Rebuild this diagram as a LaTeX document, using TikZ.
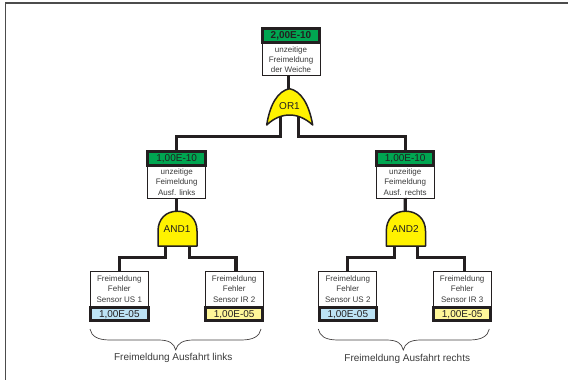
\documentclass[tikz,border=0pt]{standalone}
\usepackage{fontspec}
\setmainfont{Liberation Sans}
\definecolor{ink}{HTML}{231F20}
\definecolor{txt}{HTML}{3A3A3A}
\definecolor{hdrgreen}{HTML}{00A651}
\definecolor{gateyellow}{HTML}{FFF200}
\definecolor{usblue}{HTML}{BDE3F5}
\definecolor{irpale}{HTML}{FFF799}
\tikzset{
  frameline/.style={draw=black!70,line width=1.4pt},
  wire/.style={draw=ink,line width=3.3pt,line join=miter},
  gateshape/.style={draw=ink,line width=1.5pt,fill=gateyellow,line join=round},
  gatetext/.style={inner sep=0pt,outer sep=0pt,font=\fontsize{10}{10}\selectfont,text=ink},
  textbox/.style={draw=ink,line width=0.9pt,fill=white,inner sep=0pt,outer sep=0pt,minimum width=58pt,
    align=center,text=txt,font=\fontsize{8}{10.2}\selectfont},
  valbox/.style={draw=ink,line width=3pt,inner sep=0pt,outer sep=0pt,minimum width=57.5pt,minimum height=13.5pt,
    text=ink,font=\fontsize{10}{10}\selectfont},
  bracket/.style={draw=ink!85,line width=0.7pt},
  caption/.style={inner sep=0pt,outer sep=0pt,text=txt,font=\fontsize{10}{10}\selectfont},
}
\begin{document}
\begin{tikzpicture}[x=1pt,y=-1pt]
\useasboundingbox (0,0) rectangle (568,380);
\draw[frameline] (568,3) -- (5.5,3) -- (5.5,380);

% named connection points
\coordinate (bus0) at (288,136.7);
\coordinate (busL) at (177,257.3);
\coordinate (busR) at (405,257.3);
\coordinate (orTop) at (288.5,89);
\coordinate (orL) at (280.7,116);
\coordinate (orR) at (298.7,116);
\coordinate (and1Top) at (176.7,211);
\coordinate (and1L) at (165.3,246);
\coordinate (and1R) at (189.3,246);
\coordinate (and2Top) at (405.3,211);
\coordinate (and2L) at (394.3,246);
\coordinate (and2R) at (417.3,246);

% top event
\node[textbox,minimum height=32pt] (topText) at (291,59.6) {unzeitige\\Freimeldung\\der Weiche};
\node[valbox,fill=hdrgreen,font=\fontsize{10}{10}\bfseries\selectfont] (topVal) at (291,35.5) {2,00E-10};
% middle events
\node[textbox,minimum height=32pt] (midLText) at (176.7,182) {unzeitige\\Feimeldung\\Ausf. links};
\node[valbox,fill=hdrgreen] (midLVal) at (176.7,158.4) {1,00E-10};
\node[textbox,minimum height=32pt] (midRText) at (405.2,182) {unzeitige\\Feimeldung\\Ausf. rechts};
\node[valbox,fill=hdrgreen] (midRVal) at (405.2,158.4) {1,00E-10};
% basic events
\node[textbox,minimum height=35pt] (b1Text) at (119.3,289) {Freimeldung\\Fehler\\Sensor US 1};
\node[valbox,fill=usblue] (b1Val) at (119.3,314.2) {1,00E-05};
\node[textbox,minimum height=35pt] (b2Text) at (234.2,289) {Freimeldung\\Fehler\\Sensor IR 2};
\node[valbox,fill=irpale] (b2Val) at (234.2,314.2) {1,00E-05};
\node[textbox,minimum height=35pt] (b3Text) at (347.8,289) {Freimeldung\\Fehler\\Sensor US 2};
\node[valbox,fill=usblue] (b3Val) at (347.8,314.2) {1,00E-05};
\node[textbox,minimum height=35pt] (b4Text) at (462.2,289) {Freimeldung\\Fehler\\Sensor IR 3};
\node[valbox,fill=irpale] (b4Val) at (462.2,314.2) {1,00E-05};

% connectors
\draw[wire] (orTop |- topText.south) -- (orTop);
\draw[wire] (orL) -- (orL |- bus0) -- (midLVal.north |- bus0) -- (midLVal.north);
\draw[wire] (orR) -- (orR |- bus0) -- (midRVal.north |- bus0) -- (midRVal.north);
\draw[wire] (midLText.south) -- (and1Top);
\draw[wire] (midRText.south) -- (and2Top);
\draw[wire] (and1L) -- (and1L |- busL) -- (b1Text.north |- busL) -- (b1Text.north);
\coordinate (b2In) at (236,271.7);
\coordinate (b3In) at (347.3,271.7);
\coordinate (b4In) at (464.3,271.7);
\draw[wire] (and1R) -- (and1R |- busL) -- (b2In |- busL) -- (b2In);
\draw[wire] (and2L) -- (and2L |- busR) -- (b3In |- busR) -- (b3In);
\draw[wire] (and2R) -- (and2R |- busR) -- (b4In |- busR) -- (b4In);

% gates
\draw[gateshape] (266.7,125) .. controls (270,104) and (278,91) .. (289.5,88.7)
  .. controls (301,91) and (309,104) .. (312.7,125)
  .. controls (305,118) and (297,115) .. (289.7,115)
  .. controls (282,115) and (274,118) .. (266.7,125) -- cycle;
\node[gatetext] (orLabel) at (289.5,106.5) {OR1};
\draw[gateshape] (158,246.2) -- (158,231) .. controls (158,219) and (166,211.2) .. (177.3,211.2)
  .. controls (189,211.2) and (197,219) .. (197,231) -- (197,246.2) -- cycle;
\node[gatetext] (and1Label) at (177,229.5) {AND1};
\draw[gateshape] (386.3,246.2) -- (386.3,231) .. controls (386.3,219) and (394,211.2) .. (405.5,211.2)
  .. controls (417,211.2) and (425.5,219) .. (425.5,231) -- (425.5,246.2) -- cycle;
\node[gatetext] (and2Label) at (405.3,229.5) {AND2};

% braces
\draw[bracket] (90,329) .. controls (91.5,336) and (97,340) .. (110,340) -- (158,340)
  .. controls (169,340) and (174,343) .. (175.7,350)
  .. controls (177.5,343) and (183,340) .. (194,340) -- (241,340)
  .. controls (254,340) and (259.5,336) .. (261,329);
\draw[bracket] (318.3,329) .. controls (319.8,336) and (325,340) .. (338,340) -- (386,340)
  .. controls (397,340) and (401.5,343) .. (403.3,350)
  .. controls (405,343) and (410.5,340) .. (421,340) -- (469,340)
  .. controls (482,340) and (487.8,336) .. (489.3,329);
\node[caption] (capL) at (173.3,357.5) {Freimeldung Ausfahrt links};
\node[caption] (capR) at (407.3,358.5) {Freimeldung Ausfahrt rechts};
\end{tikzpicture}
\end{document}
